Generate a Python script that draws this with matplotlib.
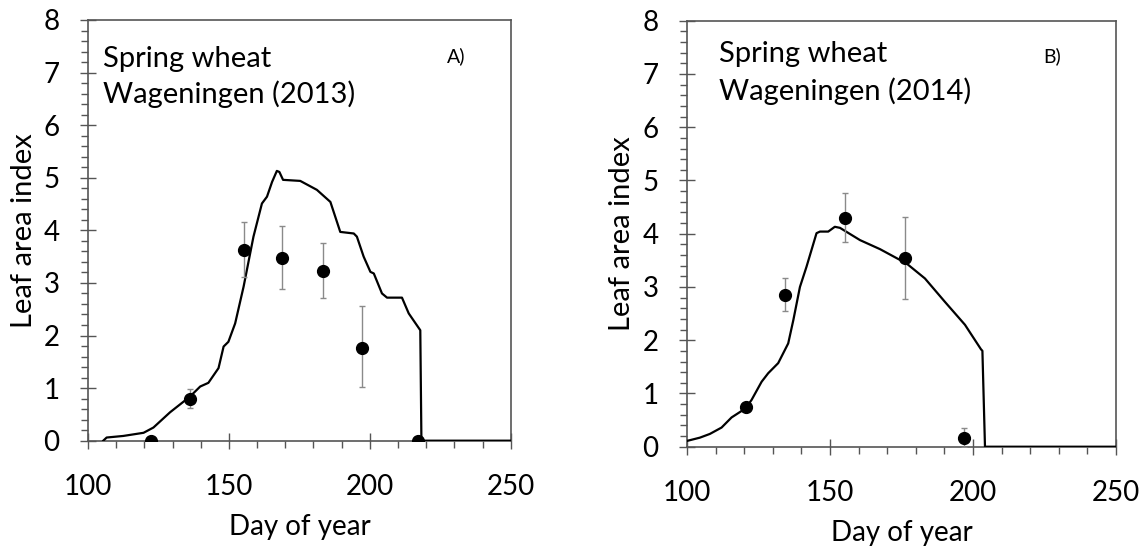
import matplotlib
matplotlib.use("Agg")
import matplotlib.pyplot as plt
from matplotlib.ticker import MultipleLocator

plt.rcParams["font.family"] = ["Lato", "DejaVu Sans"]

# Simulated LAI, 2013
sim_day_a = [105.4, 106.6, 112.5, 119.7, 123.2, 129.1, 136.2, 139.8, 142.7, 146.3,
             148.1, 149.8, 152.2, 155.2, 158.7, 161.7, 163.5, 165.3, 167.0, 167.9,
             169.2, 175.3, 181.2, 186.0, 189.5, 194.3, 195.4, 197.8, 200.2, 201.4,
             204.3, 206.1, 211.4, 213.8, 217.9, 218.3, 250.0]
sim_lai_a = [0.0, 0.06, 0.09, 0.15, 0.25, 0.54, 0.84, 1.03, 1.10, 1.38,
             1.79, 1.88, 2.23, 2.93, 3.88, 4.51, 4.64, 4.92, 5.13, 5.11,
             4.96, 4.94, 4.77, 4.54, 3.97, 3.94, 3.88, 3.50, 3.21, 3.18,
             2.80, 2.72, 2.72, 2.42, 2.10, 0.0, 0.0]

# Measured LAI, 2013
obs_day_a = [122.4, 136.2, 155.3, 169.0, 183.2, 197.1, 217.1]
obs_lai_a = [0.0, 0.79, 3.63, 3.48, 3.23, 1.77, 0.0]
obs_lo_a = [0.0, 0.17, 0.51, 0.60, 0.52, 0.74, 0.0]
obs_hi_a = [0.0, 0.19, 0.52, 0.61, 0.52, 0.79, 0.0]

# Simulated LAI, 2014
sim_day_b = [100.1, 104.5, 108.0, 112.1, 115.6, 120.5, 122.6, 126.1, 128.4, 131.9,
             135.4, 137.2, 139.5, 141.8, 145.3, 146.5, 149.4, 151.7, 153.5, 160.5,
             167.5, 176.8, 183.2, 190.2, 197.2, 202.8, 203.3, 204.2, 250.0]
sim_lai_b = [0.11, 0.17, 0.24, 0.36, 0.55, 0.72, 0.88, 1.22, 1.38, 1.57,
             1.94, 2.38, 3.00, 3.38, 4.01, 4.04, 4.04, 4.13, 4.11, 3.88,
             3.71, 3.44, 3.16, 2.72, 2.29, 1.83, 1.80, 0.0, 0.0]

# Measured LAI, 2014
obs_day_b = [120.5, 134.3, 155.4, 176.2, 197.0]
obs_lai_b = [0.74, 2.84, 4.30, 3.54, 0.17]
obs_lo_b = [0.0, 0.29, 0.46, 0.77, 0.17]
obs_hi_b = [0.0, 0.32, 0.46, 0.78, 0.19]

panels = [
    dict(rect=[0.0767, 0.1973, 0.3682, 0.7663], sim=(sim_day_a, sim_lai_a),
         obs=(obs_day_a, obs_lai_a, obs_lo_a, obs_hi_a), year="2013", tag="A)",
         title_x=0.036, title_y=(0.889, 0.803), tag_pos=(0.849, 0.900)),
    dict(rect=[0.5984, 0.1863, 0.3737, 0.7760], sim=(sim_day_b, sim_lai_b),
         obs=(obs_day_b, obs_lai_b, obs_lo_b, obs_hi_b), year="2014", tag="B)",
         title_x=0.075, title_y=(0.904, 0.814), tag_pos=(0.830, 0.903)),
]

fig = plt.figure(figsize=(11.48, 5.49), dpi=100)
frame = "#555555"

for p in panels:
    ax = fig.add_axes(p["rect"])
    ax.plot(*p["sim"], color="black", lw=1.6, zorder=3)
    d, v, lo, hi = p["obs"]
    ax.errorbar(d, v, yerr=[lo, hi], fmt="o", color="black", ms=8.5,
                ecolor="#8a8a8a", elinewidth=1.0, capsize=2.5, capthick=1.0, zorder=4)

    ax.set_xlim(100, 250)
    ax.set_ylim(0, 8)
    ax.xaxis.set_major_locator(MultipleLocator(50))
    ax.xaxis.set_minor_locator(MultipleLocator(10))
    ax.yaxis.set_major_locator(MultipleLocator(1))
    ax.yaxis.set_minor_locator(MultipleLocator(0.2))
    ax.tick_params(which="major", direction="inout", length=12, width=1.0,
                   color=frame, labelsize=20)
    ax.tick_params(axis="x", which="major", pad=18)
    ax.tick_params(axis="y", which="major", pad=14.5)
    ax.tick_params(which="minor", direction="out", length=5, width=1.0, color=frame)
    for s in ax.spines.values():
        s.set_color(frame)
        s.set_linewidth(1.2)

    ax.set_xlabel("Day of year", fontsize=20, labelpad=10)
    ax.set_ylabel("Leaf area index", fontsize=21, labelpad=5)

    ax.text(p["title_x"], p["title_y"][0], "Spring wheat", transform=ax.transAxes,
            fontsize=21, va="baseline", ha="left")
    ax.text(p["title_x"], p["title_y"][1], f"Wageningen ({p['year']})",
            transform=ax.transAxes, fontsize=21, va="baseline", ha="left")
    ax.text(*p["tag_pos"], p["tag"], transform=ax.transAxes, fontsize=14,
            va="baseline", ha="left")

fig.savefig("out.png", dpi=100)
